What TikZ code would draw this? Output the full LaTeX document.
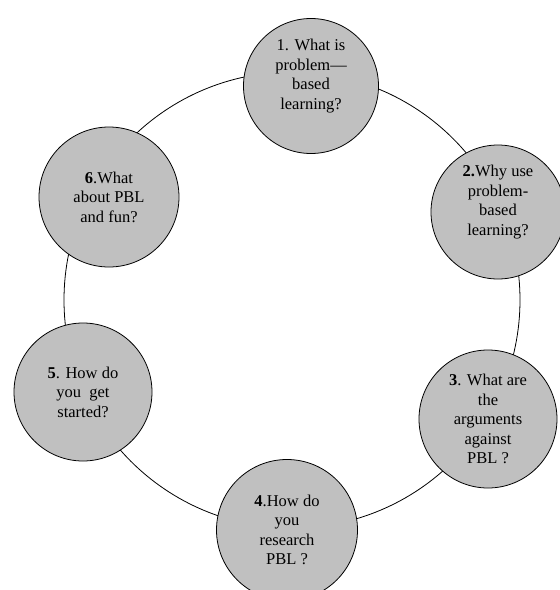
\documentclass[tikz,border=0pt]{standalone}
\usepackage{fontspec}
\setmainfont{Liberation Serif}
\definecolor{qgray}{HTML}{C0C0C0}
\begin{document}
\begin{tikzpicture}[x=1pt, y=-1pt]
        \tikzstyle{every node}=[circle, draw, line width=0.8pt, fill=qgray, inner sep=0pt, align=center,
                                minimum size=138pt, font=\fontsize{16.5}{19.5}\selectfont]

        \useasboundingbox (0,0) rectangle (560,590);
        \clip (0,0) rectangle (560,590);

        \coordinate (mid) at (292,300);
        \draw[line width=0.8pt] (mid) circle (228pt);

        \node (q1) [minimum size=135pt] at (311,86)  {1. What is\\problem---\\based\\learning?\\[4pt]};
        \node (q2) [minimum size=134pt] at (498,212) {\textbf{2.}Why use\\problem-\\based\\learning?\\[4pt]};
        \node (q3) at (488,419) {\textbf{3}. What are\\the\\arguments\\against\\PBL ?};
        \node (q4) [minimum size=141pt] at (287,530) {\textbf{4}.How do\\you\\research\\PBL ?};
        \node (q5) at (83,392)  {\textbf{5}. How do\\you \ get\\started?};
        \node (q6) [minimum size=140pt] at (109,197) {\textbf{6}.What\\about PBL\\and fun?};

    \end{tikzpicture}
\end{document}
